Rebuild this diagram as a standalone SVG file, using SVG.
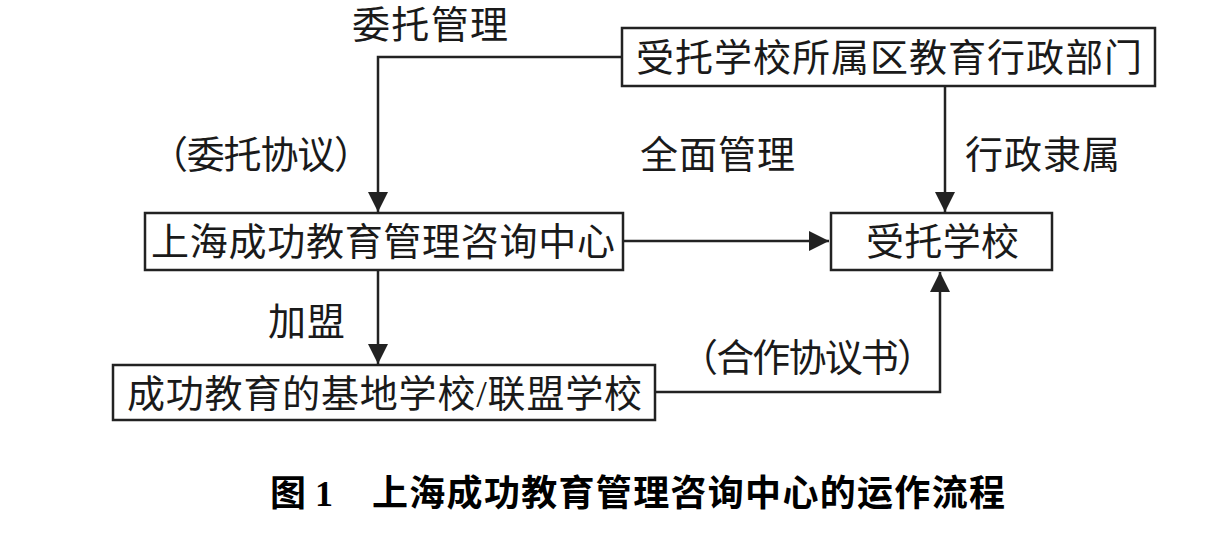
<svg xmlns="http://www.w3.org/2000/svg" width="1220" height="549" viewBox="0 0 1220 549">
<style>
.box{fill:#fff;stroke:#222;stroke-width:2.5}
.t{font-family:"Liberation Serif","Noto Sans CJK SC",serif;font-size:38px;fill:#1a1a1a}
.c{font-family:"Liberation Serif","Noto Sans CJK SC",serif;font-size:36px;font-weight:bold;fill:#000}
.ln{fill:none;stroke:#222;stroke-width:2.5}
</style>
<defs>
<marker id="ah" viewBox="0 0 10 10" refX="10" refY="5" markerWidth="20" markerHeight="20" markerUnits="userSpaceOnUse" orient="auto">
<path d="M0,0 L10,5 L0,10 Z" fill="#222"/>
</marker>
</defs>
<rect width="1220" height="549" fill="#fff"/>
<g id="connectors">
<path class="ln" d="M622,57 H378 V212" marker-end="url(#ah)"/>
<path class="ln" d="M945,86 V212" marker-end="url(#ah)"/>
<path class="ln" d="M623,241 H829" marker-end="url(#ah)"/>
<path class="ln" d="M378,270 V364" marker-end="url(#ah)"/>
<path class="ln" d="M655,392 H940 V272" marker-end="url(#ah)"/>
<text class="t" x="352" y="38" textLength="156" lengthAdjust="spacing">委托管理</text>
<text class="t" x="150" y="168" textLength="222" lengthAdjust="spacing">（委托协议）</text>
<text class="t" x="640" y="168" textLength="155" lengthAdjust="spacing">全面管理</text>
<text class="t" x="965" y="168" textLength="155" lengthAdjust="spacing">行政隶属</text>
<text class="t" x="268" y="335" textLength="77" lengthAdjust="spacing">加盟</text>
<text class="t" x="680" y="371" textLength="255" lengthAdjust="spacing">（合作协议书）</text>
</g>
<g id="node-admin">
<rect class="box" x="622" y="28" width="533" height="58"/>
<text class="t" x="636" y="71" textLength="506" lengthAdjust="spacing">受托学校所属区教育行政部门</text>
</g>
<g id="node-center">
<rect class="box" x="145" y="213" width="478" height="57"/>
<text class="t" x="151" y="255" textLength="464" lengthAdjust="spacing">上海成功教育管理咨询中心</text>
</g>
<g id="node-school">
<rect class="box" x="831" y="213" width="221" height="57"/>
<text class="t" x="866" y="255" textLength="153" lengthAdjust="spacing">受托学校</text>
</g>
<g id="node-base">
<rect class="box" x="113" y="365" width="542" height="55"/>
<text class="t" x="127" y="407" textLength="515" lengthAdjust="spacing">成功教育的基地学校/联盟学校</text>
</g>
<g id="caption">
<text class="c" x="270" y="506">图 1</text>
<text class="c" x="372" y="506" textLength="633" lengthAdjust="spacing">上海成功教育管理咨询中心的运作流程</text>
</g>
</svg>
